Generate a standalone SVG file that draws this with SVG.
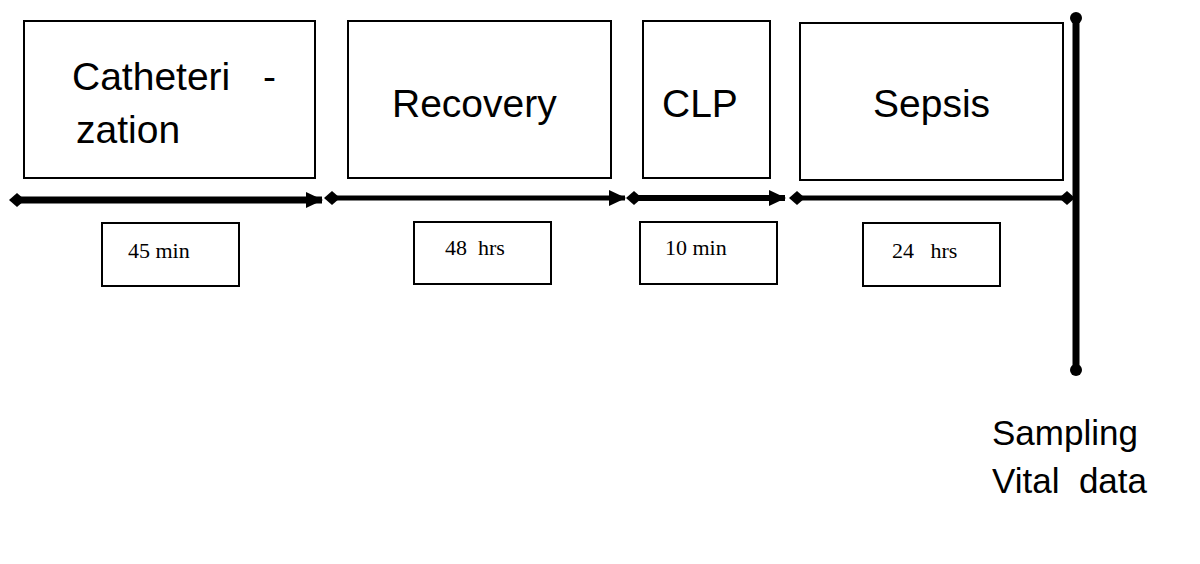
<svg xmlns="http://www.w3.org/2000/svg" width="1200" height="564" viewBox="0 0 1200 564">
<defs>
<style>
.box{fill:#fff;stroke:#000;stroke-width:2}
.big{font-family:"Liberation Sans",Arial,sans-serif;font-size:39px;fill:#000}
.small{font-family:"Liberation Serif","Times New Roman",serif;font-size:22px;fill:#000}
.line{stroke:#000;fill:none}
</style>
<marker id="dia" markerUnits="userSpaceOnUse" markerWidth="18" markerHeight="18" refX="9" refY="9" orient="auto" viewBox="0 0 18 18">
<path d="M1,9 L9,2 L17,9 L9,16 Z" fill="#000"/>
</marker>
<marker id="arr" markerUnits="userSpaceOnUse" markerWidth="18" markerHeight="18" refX="16" refY="9" orient="auto" viewBox="0 0 18 18">
<path d="M0,1 L17,9 L0,17 Z" fill="#000"/>
</marker>
<marker id="dot" markerUnits="userSpaceOnUse" markerWidth="14" markerHeight="14" refX="7" refY="7" viewBox="0 0 14 14">
<circle cx="7" cy="7" r="6" fill="#000"/>
</marker>
</defs>
<g id="node-catheterization">
<rect class="box" x="24" y="21" width="291" height="157"/>
<text class="big" x="72" y="90">Catheteri</text>
<text class="big" x="263" y="90">-</text>
<text class="big" x="76" y="143">zation</text>
</g>
<g id="node-recovery">
<rect class="box" x="348" y="21" width="263" height="157"/>
<text class="big" x="392" y="117">Recovery</text>
</g>
<g id="node-clp">
<rect class="box" x="643" y="21" width="127" height="157"/>
<text class="big" x="662" y="117">CLP</text>
</g>
<g id="node-sepsis">
<rect class="box" x="800" y="23" width="263" height="157"/>
<text class="big" x="873" y="117">Sepsis</text>
</g>
<g id="node-45min">
<rect class="box" x="102" y="223" width="137" height="63"/>
<text class="small" x="128" y="258">45 min</text>
</g>
<g id="node-48hrs">
<rect class="box" x="414" y="222" width="137" height="62"/>
<text class="small" x="445" y="255" xml:space="preserve">48  hrs</text>
</g>
<g id="node-10min">
<rect class="box" x="640" y="222" width="137" height="62"/>
<text class="small" x="665" y="255">10 min</text>
</g>
<g id="node-24hrs">
<rect class="box" x="863" y="223" width="137" height="63"/>
<text class="small" x="892" y="258" xml:space="preserve">24   hrs</text>
</g>
<g id="node-sampling">
<text class="big" x="992" y="445" style="font-size:35px">Sampling</text>
<text class="big" x="992" y="493" style="font-size:35px" xml:space="preserve">Vital  data</text>
</g>
<g id="connectors">
<line class="line" x1="17" y1="200" x2="322" y2="200" stroke-width="7" marker-start="url(#dia)" marker-end="url(#arr)"/>
<line class="line" x1="332" y1="198" x2="625" y2="198" stroke-width="5" marker-start="url(#dia)" marker-end="url(#arr)"/>
<line class="line" x1="634" y1="198" x2="785" y2="198" stroke-width="6" marker-start="url(#dia)" marker-end="url(#arr)"/>
<line class="line" x1="797" y1="198" x2="1067" y2="198" stroke-width="5" marker-start="url(#dia)" marker-end="url(#dia)"/>
<line class="line" x1="1076" y1="18" x2="1076" y2="370" stroke-width="7" marker-start="url(#dot)" marker-end="url(#dot)"/>
</g>
</svg>
